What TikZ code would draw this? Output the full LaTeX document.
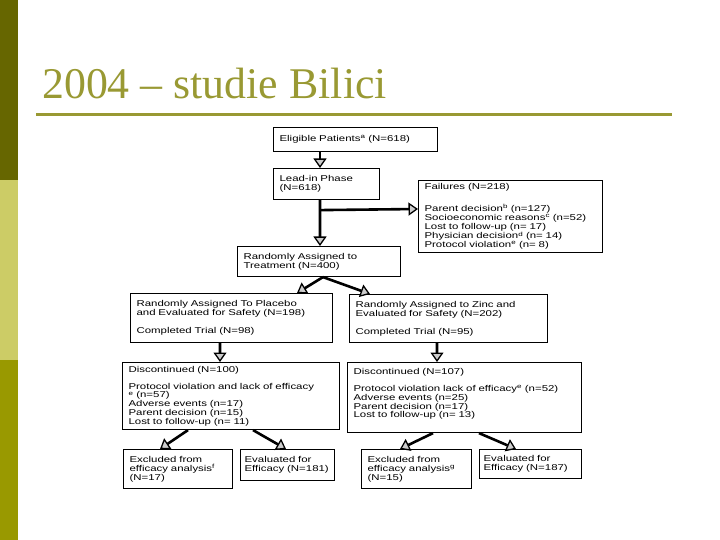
\documentclass[tikz,border=0pt]{standalone}
\usepackage{fontspec}
\usetikzlibrary{arrows.meta}

\newfontfamily\boxfont{Liberation Sans}[FakeStretch=1.35]
\newfontfamily\titlefont{Liberation Serif}

\definecolor{olivedark}{HTML}{666600}
\definecolor{olivelight}{HTML}{CCCC66}
\definecolor{olivemid}{HTML}{999900}
\definecolor{titleolive}{HTML}{999933}

\tikzset{
  box/.style={draw, line width=1.1bp, anchor=north west, align=left,
    inner xsep=6bp, inner ysep=2bp,
    font=\boxfont\fontsize{8.5}{8.8}\selectfont},
  flow/.style={draw, line width=2.6bp,
    -{Triangle[length=9.5bp,width=13bp,fill=gray!40,line width=1.3bp]}}
}

\begin{document}
\begin{tikzpicture}[x=1bp,y=-1bp]

      \useasboundingbox (0,0) rectangle (720,540);

      % slide frame
      \fill[olivedark]  (0,0)   rectangle (18,180);
      \fill[olivelight] (0,180) rectangle (18,360);
      \fill[olivemid]   (0,360) rectangle (18,540);
      \node[anchor=base west, inner sep=0, text=titleolive,
        font=\titlefont\fontsize{44}{44}\selectfont] (title) at (42,99) {2004 – studie Bilici};
      \draw[titleolive, line width=3bp] (36,114.5) -- (672,114.5);

      \begin{scope}[every node/.style={box}]
        \node[text width=152bp, minimum height=24bp] (elig)   at (273,127) {Eligible Patients\textsuperscript{a} (N=618)};
        \node[text width=94bp,  minimum height=31bp] (leadin) at (273,168) {Lead-in Phase\\(N=618)};
        \node[text width=172bp, minimum height=72bp] (fail)   at (418,180) {Failures (N=218)\\[12bp]Parent decision\textsuperscript{b} (n=127)\\Socioeconomic reasons\textsuperscript{c} (n=52)\\Lost to follow-up (n= 17)\\Physician decision\textsuperscript{d} (n= 14)\\Protocol violation\textsuperscript{e} (n= 8)};
        \node[text width=151bp, minimum height=30bp] (treat)  at (237,246) {Randomly Assigned to\\Treatment (N=400)};
        \node[text width=190bp, minimum height=49bp] (plac)   at (130,293) {Randomly Assigned To Placebo\\and Evaluated for Safety (N=198)\\[9bp]Completed Trial (N=98)};
        \node[text width=186bp, minimum height=48bp] (zinc)   at (349,294) {Randomly Assigned to Zinc and\\Evaluated for Safety (N=202)\\[9bp]Completed Trial (N=95)};
        \node[text width=205bp, minimum height=67bp] (discl)  at (122,362) {Discontinued (N=100)\\[8bp]Protocol violation and lack of efficacy\\\textsuperscript{e} (n=57)\\Adverse events (n=17)\\Parent decision (n=15)\\Lost to follow-up (n= 11)};
        \node[text width=222bp, minimum height=70bp] (discr)  at (347,362) {Discontinued (N=107)\\[8bp]Protocol violation lack of efficacy\textsuperscript{e} (n=52)\\Adverse events (n=25)\\Parent decision (n=17)\\Lost to follow-up (n= 13)\\\mbox{}};
        \node[text width=97bp,  minimum height=39bp] (exl)    at (123,449) {Excluded from\\efficacy analysis\textsuperscript{f}\\(N=17)};
        \node[text width=86bp,  minimum height=31bp, inner xsep=4bp] (evl) at (240,449) {Evaluated for\\Efficacy (N=181)};
        \node[text width=98bp,  minimum height=39bp] (exr)    at (361,449) {Excluded from\\efficacy analysis\textsuperscript{g}\\(N=15)};
        \node[text width=94bp,  minimum height=29bp, inner xsep=4bp] (evr) at (479,449) {Evaluated for\\Efficacy (N=187)};
      \end{scope}

      \coordinate (split) at ([xshift=47bp,yshift=-10bp]leadin.south west);

      \begin{scope}[every edge/.style={flow}]
        \path ([xshift=47bp]elig.south west)    edge ([xshift=47bp]leadin.north west);
        \path ([xshift=47bp]leadin.south west)  edge ([xshift=83bp]treat.north west);
        \path (split)                           edge ([yshift=-29bp]fail.north west);
        \path ([xshift=86bp]treat.south west)   edge ([xshift=167bp]plac.north west);
        \path ([xshift=86bp]treat.south west)   edge ([xshift=21bp]zinc.north west);
        \path ([xshift=90bp]plac.south west)    edge ([xshift=98bp]discl.north west);
        \path ([xshift=88bp]zinc.south west)    edge ([xshift=90bp]discr.north west);
        \path ([xshift=66bp]discl.south west)   edge ([xshift=37bp]exl.north west);
        \path ([xshift=131bp]discl.south west)  edge ([xshift=46bp]evl.north west);
        \path ([xshift=86bp]discr.south west)   edge ([xshift=39bp]exr.north west);
        \path ([xshift=132bp]discr.south west)  edge ([xshift=37bp]evr.north west);
      \end{scope}

    \end{tikzpicture}
\end{document}
